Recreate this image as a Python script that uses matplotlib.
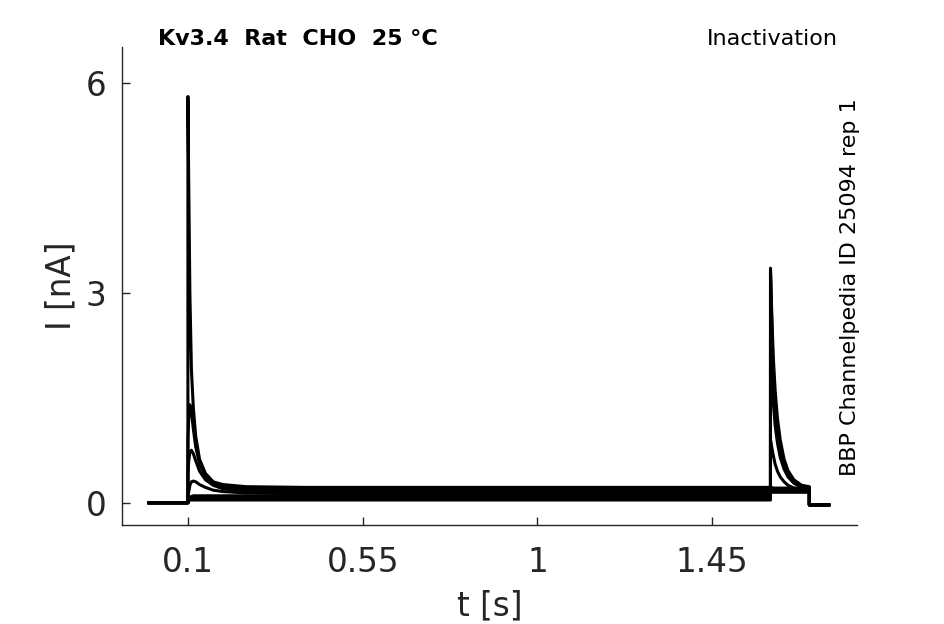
import matplotlib
matplotlib.use("Agg")
import matplotlib.pyplot as plt
import numpy as np

# time points of the sweeps [s]
t_s = [0.0, 0.0999, 0.1, 0.102, 0.105, 0.109, 0.114, 0.12, 0.13, 0.145, 0.165, 0.19, 0.25, 0.4,
       1.5999, 1.6, 1.603, 1.607, 1.612, 1.618, 1.625, 1.635, 1.645, 1.66, 1.68, 1.6999, 1.7, 1.75]

# current of each sweep [nA]
sweep_1 = [0, 0, 5.8, 4.6, 3.0, 1.9, 1.35, 0.95, 0.62, 0.42, 0.3, 0.26, 0.23, 0.22,
           0.22, 0.23, 0.22, 0.21, 0.21, 0.21, 0.21, 0.21, 0.21, 0.21, 0.21, 0.21, -0.03, -0.03]
sweep_2 = [0, 0, 0.9, 1.2, 1.4, 1.3, 1.05, 0.8, 0.55, 0.38, 0.28, 0.23, 0.2, 0.19,
           0.19, 0.2, 0.19, 0.18, 0.18, 0.18, 0.18, 0.18, 0.18, 0.18, 0.18, 0.18, -0.03, -0.03]
sweep_3 = [0, 0, 0.4, 0.6, 0.72, 0.75, 0.7, 0.6, 0.45, 0.33, 0.25, 0.2, 0.17, 0.16,
           0.16, 0.16, 0.15, 0.15, 0.15, 0.15, 0.15, 0.15, 0.15, 0.15, 0.15, 0.15, -0.03, -0.03]
sweep_4 = [0, 0, 0.1, 0.15, 0.25, 0.3, 0.31, 0.3, 0.26, 0.22, 0.18, 0.16, 0.14, 0.13,
           0.13, 0.9, 0.8, 0.68, 0.55, 0.45, 0.37, 0.3, 0.25, 0.21, 0.19, 0.18, -0.03, -0.03]
sweep_5 = [0, 0, 0.05, 0.07, 0.08, 0.09, 0.1, 0.1, 0.1, 0.1, 0.1, 0.1, 0.1, 0.1,
           0.1, 2.35, 1.9, 1.45, 1.1, 0.85, 0.65, 0.48, 0.37, 0.28, 0.22, 0.21, -0.03, -0.03]
sweep_6 = [0, 0, 0.03, 0.05, 0.06, 0.07, 0.07, 0.07, 0.07, 0.07, 0.07, 0.07, 0.07, 0.07,
           0.07, 3.35, 2.6, 1.9, 1.4, 1.05, 0.8, 0.55, 0.42, 0.3, 0.24, 0.22, -0.03, -0.03]
sweep_7 = [0, 0, 0.02, 0.03, 0.04, 0.04, 0.04, 0.04, 0.04, 0.04, 0.04, 0.04, 0.04, 0.04,
           0.04, 3.3, 2.75, 2.1, 1.6, 1.2, 0.9, 0.62, 0.46, 0.33, 0.25, 0.23, -0.03, -0.03]

sweeps = [sweep_1, sweep_2, sweep_3, sweep_4, sweep_5, sweep_6, sweep_7]

x_ticks = [0.1, 0.55, 1, 1.45]
x_tick_labels = ["0.1", "0.55", "1", "1.45"]
y_ticks = [0, 3, 6]

fig = plt.figure(figsize=(9.45, 6.24), dpi=100)
ax = fig.add_axes([0.129, 0.159, 0.778, 0.766])

for sweep in sweeps:
	ax.plot(t_s, sweep, color="black", linewidth=2.2)

ax.set_xlim(-0.07, 1.823)
ax.set_ylim(-0.314, 6.51)
ax.set_xticks(x_ticks)
ax.set_xticklabels(x_tick_labels)
ax.set_yticks(y_ticks)

ax.spines["top"].set_visible(False)
ax.spines["right"].set_visible(False)
for side in ["left", "bottom"]:
	ax.spines[side].set_color("#262626")
	ax.spines[side].set_linewidth(1.0)
ax.tick_params(direction="in", length=6, width=1.0, colors="#262626", labelsize=23.5)
ax.tick_params(axis="x", pad=15)
ax.tick_params(axis="y", pad=11)

ax.set_xlabel("t [s]", fontsize=23.5, color="#262626", labelpad=8)
ax.set_ylabel("I [nA]", fontsize=23.5, color="#262626", labelpad=6)

fig.text(0.167, 0.937, "Kv3.4  Rat  CHO  25 °C", fontsize=16, fontweight="bold", va="center", ha="left")
fig.text(0.887, 0.937, "Inactivation", fontsize=16, va="center", ha="right")
fig.text(0.9, 0.54, "BBP Channelpedia ID 25094 rep 1", fontsize=16, rotation=90, va="center", ha="center")

fig.savefig("out.png", dpi=100)
